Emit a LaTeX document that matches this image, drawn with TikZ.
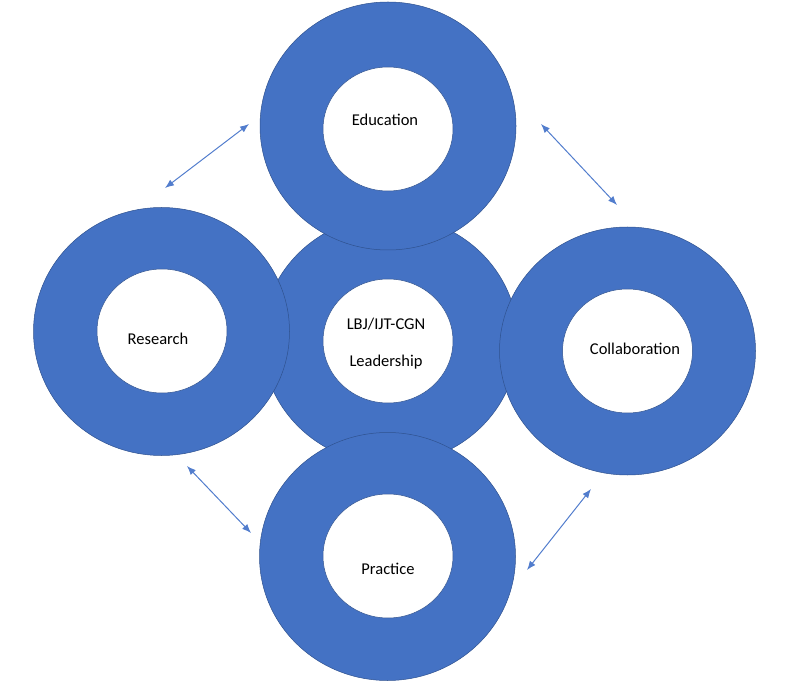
\documentclass[tikz,border=0pt]{standalone}
\usepackage{fontspec}
\setmainfont{Carlito}
\usepackage{tikz}
\usetikzlibrary{arrows.meta,shapes.geometric}
\definecolor{ringblue}{RGB}{68,114,196}
\definecolor{ringedge}{RGB}{47,82,143}
\definecolor{linkblue}{RGB}{82,125,205}
\tikzset{
  ring/.style={ellipse,draw=ringedge,line width=0.5pt,fill=ringblue,minimum width=256pt,minimum height=248pt,inner sep=0pt},
  hole/.style={ellipse,draw=ringedge,line width=0.5pt,fill=white,minimum width=130pt,minimum height=124pt,inner sep=0pt},
  txt/.style={font=\fontsize{16.5}{20}\selectfont,inner sep=0pt,align=center},
  link/.style={draw=linkblue,line width=1pt,{Latex[length=9pt,width=7pt]}-{Latex[length=9pt,width=7pt]}},
}

\begin{document}
\begin{tikzpicture}[x=1pt,y=-1pt]
      \useasboundingbox (0,0) rectangle (800,692);
      \node [ring] (lead) at (390,340) {};
      \node [hole] (leadh) at (388,341) {};
      \node [txt] (leadt) at (386,344) {LBJ/IJT-CGN\\[17pt]Leadership};
      \node [ring] (edu) at (388,126) {};
      \node [hole] (eduh) at (388,129) {};
      \node [txt] (edut) at (385,120) {Education};
      \node [ring] (res) at (161.5,331.5) {};
      \node [hole] (resh) at (162,331) {};
      \node [txt] (rest) at (158,339) {Research};
      \node [ring] (col) at (627.5,351) {};
      \node [hole] (colh) at (627.5,351) {};
      \node [txt] (colt) at (635,349) {Collaboration};
      \node [ring] (prac) at (387.5,556.5) {};
      \node [hole] (prach) at (388,556) {};
      \node [txt] (pract) at (388,569) {Practice};
      \coordinate (resup) at (165,188);
      \coordinate (eduleft) at (249,124);
      \coordinate (eduright) at (541,124);
      \coordinate (colup) at (617,205);
      \coordinate (resdown) at (187,466);
      \coordinate (pracleft) at (251,533);
      \coordinate (coldown) at (591,489);
      \coordinate (pracright) at (527,570);
      \draw [link] (resup)--(eduleft);
      \draw [link] (eduright)--(colup);
      \draw [link] (resdown)--(pracleft);
      \draw [link] (coldown)--(pracright);
    \end{tikzpicture}
\end{document}
